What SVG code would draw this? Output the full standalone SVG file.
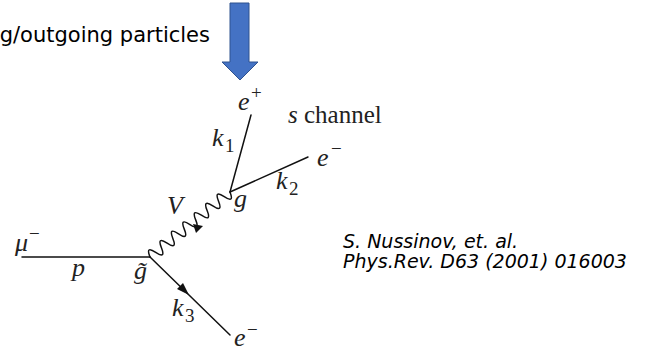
<svg xmlns="http://www.w3.org/2000/svg" width="652" height="352" viewBox="0 0 652 352">
<defs>
<style>
.ln{stroke:#111;stroke-width:1.5;fill:none;stroke-linecap:round}
.ah{fill:#111;stroke:none}
.m{font-family:"Liberation Serif","DejaVu Serif",serif;font-style:italic;font-size:26px;fill:#222}
.r{font-family:"Liberation Serif","DejaVu Serif",serif;font-style:normal;font-size:19px;fill:#222}
.rm{font-family:"Liberation Serif","DejaVu Serif",serif;font-style:normal;font-size:25px;fill:#222}
.c{font-family:"DejaVu Sans","Liberation Sans",sans-serif;fill:#000}
</style>
</defs>
<rect width="652" height="352" fill="#fff"/>
<g id="title">
<text class="c" x="210" y="42" font-size="21" text-anchor="end">g/outgoing particles</text>
</g>
<g id="blue-arrow">
<polygon points="230,3 249,3 249,62 258,62 240,80 222,62 230,62" fill="#4472C4" stroke="#2F528F" stroke-width="1"/>
</g>
<g id="connectors">
<line class="ln" x1="22" y1="257" x2="150" y2="257"/>
<line class="ln" x1="150" y1="257" x2="230" y2="335"/>
<polygon class="ah" points="189,295 177,289 183,283"/>
<line class="ln" x1="230" y1="192" x2="251" y2="115"/>
<line class="ln" x1="230" y1="192" x2="308" y2="157"/>
<path class="ln" transform="translate(150,257) rotate(-39.1)" d="M0,0 q3.68,-12 7.36,0 t7.36,0 t7.36,0 t7.36,0 t7.36,0 t7.36,0 t7.36,0 t7.36,0 t7.36,0 t7.36,0 t7.36,0 t7.36,0 t7.36,0 t7.36,0"/>
<polygon class="ah" points="193,224 203,226 196,233"/>
</g>
<g id="vertex-g">
<text class="m" x="234" y="207">g</text>
</g>
<g id="vertex-gtilde">
<text class="m" x="134" y="279">g̃</text>
</g>
<g id="label-V"><text class="m" x="167" y="214">V</text></g>
<g id="label-mu"><text class="m" x="15" y="251">μ</text><text class="r" x="29" y="240">−</text></g>
<g id="label-p"><text class="m" x="72" y="276">p</text></g>
<g id="label-k3"><text class="m" x="172" y="316">k</text><text class="r" x="185" y="322">3</text></g>
<g id="label-e-bottom"><text class="m" x="234" y="346">e</text><text class="r" x="247" y="336">−</text></g>
<g id="label-k1"><text class="m" x="212" y="146">k</text><text class="r" x="225" y="152">1</text></g>
<g id="label-k2"><text class="m" x="276" y="189">k</text><text class="r" x="289" y="195">2</text></g>
<g id="label-eplus"><text class="m" x="238" y="110">e</text><text class="r" x="251" y="99">+</text></g>
<g id="label-e-right"><text class="m" x="317" y="166">e</text><text class="r" x="331" y="155">−</text></g>
<g id="label-schannel"><text class="rm" x="288" y="123"><tspan font-style="italic">s</tspan> channel</text></g>
<g id="citation">
<text class="c" x="343" y="248" font-size="19" font-style="italic">S. Nussinov, et. al.</text>
<text class="c" x="343" y="268" font-size="19" font-style="italic">Phys.Rev. D63 (2001) 016003</text>
</g>
</svg>
